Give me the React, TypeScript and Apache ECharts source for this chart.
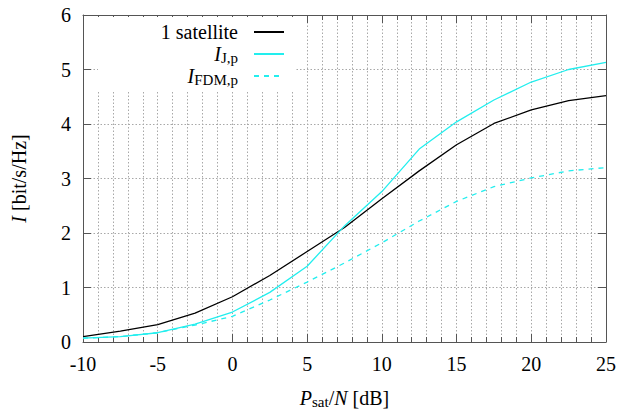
import React, { useEffect, useRef } from "react";
import * as echarts from "echarts";

const xValues = [-10, -7.5, -5, -2.5, 0, 2.5, 5, 7.5, 10, 12.5, 15, 17.5, 20, 22.5, 25];
const oneSatellite = [0.1, 0.2, 0.32, 0.53, 0.83, 1.22, 1.66, 2.1, 2.63, 3.14, 3.62, 4.01, 4.26, 4.43, 4.52];
const iJp = [0.07, 0.1, 0.17, 0.33, 0.55, 0.91, 1.39, 2.13, 2.76, 3.54, 4.04, 4.44, 4.77, 5.0, 5.13];
const iFdmp = [0.07, 0.1, 0.17, 0.31, 0.47, 0.77, 1.1, 1.45, 1.82, 2.22, 2.58, 2.85, 3.01, 3.14, 3.2];

const seriesNames = ["1 satellite", "I_J,p", "I_FDM,p"];
const legendLabels: Record<string, string> = {
  "1 satellite": "{n|1 satellite}",
  "I_J,p": "{i|I}{s|J,p}",
  "I_FDM,p": "{i|I}{s|FDM,p}",
};

const FONT = "Liberation Serif";
const plain = { fontFamily: FONT, fontStyle: "normal", fontWeight: "normal", color: "#000" };

const richStyles = {
  i: { ...plain, fontStyle: "italic", fontSize: 20, lineHeight: 22 },
  s: { ...plain, fontSize: 15, verticalAlign: "bottom", lineHeight: 10 },
  n: { ...plain, fontSize: 20, lineHeight: 22 },
};

const gridLine = { show: true, lineStyle: { color: "#a8a8a8", type: [1.5, 2], width: 1 } };

export default function App() {
  const ref = useRef<HTMLDivElement>(null);
  useEffect(() => {
    if (!ref.current) return;
    const chart = echarts.init(ref.current, null, { renderer: "svg" });
    const pairs = (ys: number[]) => xValues.map((x, i) => [x, ys[i]]);
    const mkAxisLine = () => ({ show: true, onZero: false, lineStyle: { color: "#555", width: 1 } });
    const mkLabel = () => ({ show: true, margin: 12, ...plain, fontSize: 20 });
    const mkTick = () => ({ show: true, inside: true, length: 8, lineStyle: { color: "#555" } });
    chart.setOption({
      animation: false,
      textStyle: { ...plain, fontSize: 20 },
      grid: { left: 83, right: 26, top: 15, bottom: 67 },
      xAxis: [
        {
          type: "value",
          min: -10,
          max: 25,
          interval: 5,
          position: "bottom",
          axisLine: mkAxisLine(),
          axisTick: mkTick(),
          minorTick: { show: true, splitNumber: 5, length: 5, lineStyle: { color: "#555" } },
          name: "{i|P}{s|sat}{n|/}{i|N}{n| [dB]}",
          nameLocation: "middle",
          nameGap: 45,
          nameTextStyle: { ...plain, fontSize: 20, rich: richStyles },
          axisLabel: mkLabel(),
          splitLine: gridLine,
          minorSplitLine: gridLine,
        },
        {
          type: "value",
          min: -10,
          max: 25,
          interval: 5,
          position: "top",
          axisLine: mkAxisLine(),
          axisTick: mkTick(),
          minorTick: { show: true, splitNumber: 5, length: 5, lineStyle: { color: "#555" } },
          axisLabel: { show: false },
          splitLine: { show: false },
        },
      ],
      yAxis: [
        {
          type: "value",
          min: 0,
          max: 6,
          interval: 1,
          position: "left",
          axisLine: mkAxisLine(),
          axisTick: mkTick(),
          name: "{i|I}{n| [bit/s/Hz]}",
          nameLocation: "middle",
          nameGap: 53,
          nameTextStyle: { ...plain, fontSize: 20, rich: richStyles },
          axisLabel: mkLabel(),
          splitLine: gridLine,
        },
        {
          type: "value",
          min: 0,
          max: 6,
          interval: 1,
          position: "right",
          axisLine: mkAxisLine(),
          axisTick: mkTick(),
          axisLabel: { show: false },
          splitLine: { show: false },
        },
      ],
      legend: {
        orient: "vertical",
        left: 98,
        top: 17,
        padding: [4, 10, 3, 20],
        itemWidth: 30,
        itemHeight: 14,
        itemGap: 0,
        align: "right",
        backgroundColor: "#fff",
        data: seriesNames,
        itemStyle: { opacity: 0 },
        formatter: (name: string) => legendLabels[name] ?? name,
        textStyle: {
          ...plain,
          fontSize: 20,
          width: 120,
          lineHeight: 22,
          padding: [0, 11, 0, 0],
          rich: richStyles,
        },
      },
      series: [
        {
          name: seriesNames[0],
          type: "line",
          data: pairs(oneSatellite),
          symbol: "none",
          lineStyle: { color: "#000", width: 1.3 },
          itemStyle: { color: "#000" },
          z: 3,
        },
        {
          name: seriesNames[1],
          type: "line",
          data: pairs(iJp),
          symbol: "none",
          lineStyle: { color: "#22eeee", width: 1.3 },
          itemStyle: { color: "#22eeee" },
          z: 3,
        },
        {
          name: seriesNames[2],
          type: "line",
          data: pairs(iFdmp),
          symbol: "none",
          lineStyle: { color: "#22eeee", width: 1.3, type: [5, 5] },
          itemStyle: { color: "#22eeee" },
          z: 3,
        },
      ],
    });
    return () => chart.dispose();
  }, []);
  return (
    <div
      ref={ref}
      style={{ position: "fixed", left: 0, top: 0, width: 632, height: 414, background: "#fff" }}
    />
  );
}
